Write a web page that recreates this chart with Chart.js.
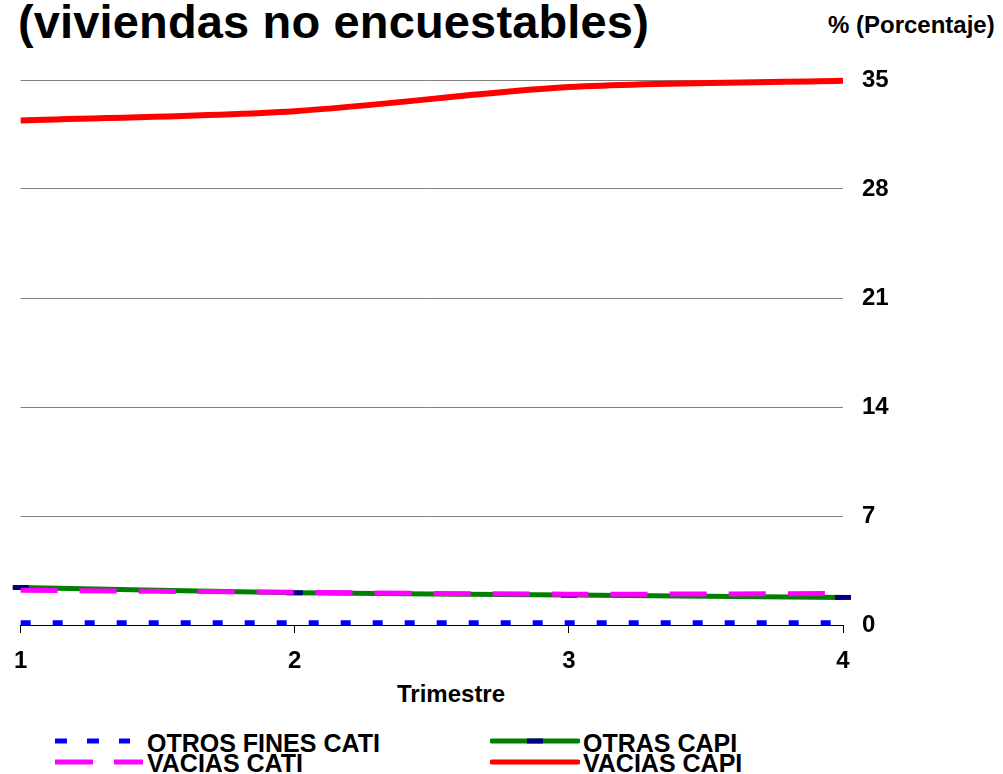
<!DOCTYPE html>
<html>
<head>
<meta charset="utf-8">
<script src="https://cdn.jsdelivr.net/npm/chart.js@4.4.1/dist/chart.umd.min.js"></script>
<style>
  html, body { margin: 0; padding: 0; background: #fff; }
  body { width: 1003px; height: 774px; position: relative; overflow: hidden;
         font-family: "Liberation Sans", Arial, sans-serif; font-weight: bold; color: #000; }
  #wrap { position: absolute; left: 0; top: 0; width: 1003px; height: 710px; }
  .txt { position: absolute; white-space: nowrap; line-height: 1; }
  #title { left: 18px; top: -2px; font-size: 47px; letter-spacing: 0.15px; }
  #ytitle { left: 828px; top: 13px; font-size: 24px; }
  #xtitle { left: 397px; top: 682px; font-size: 24px; }
  .leg { position: absolute; font-size: 25px; line-height: 1; white-space: nowrap; }
</style>
</head>
<body>
<div class="txt" id="title">(viviendas no encuestables)</div>
<div class="txt" id="ytitle">% (Porcentaje)</div>
<div class="txt" id="xtitle">Trimestre</div>
<div id="wrap"><canvas id="trimChart" width="1003" height="710"></canvas></div>
<div id="legend"></div>
<script>
// Categories and series
const trimestres = ['1', '2', '3', '4'];
const otrosFinesCati = [0.15, 0.15, 0.15, 0.15];
const otrasCapi = [2.41, 2.07, 1.92, 1.77];
const vaciasCati = [2.23, 2.1, 1.98, 2.02];
const vaciasCapi = [32.4, 33.0, 34.55, 34.95];
const yTicks = [0, 7, 14, 21, 28, 35];

const boldFont = { family: '"Liberation Sans", Arial, sans-serif', size: 24, weight: 'bold' };

const ctx = document.getElementById('trimChart').getContext('2d');
const chart = new Chart(ctx, {
  type: 'line',
  data: {
    labels: trimestres,
    datasets: [
      {
        label: 'VACIAS CATI',
        data: vaciasCati,
        borderColor: '#FF00FF',
        borderWidth: 5,
        borderDash: [37, 22],
        pointRadius: 0,
        tension: 0.3
      },
      {
        label: 'OTRAS CAPI',
        data: otrasCapi,
        borderColor: '#008000',
        borderWidth: 5,
        pointStyle: 'line',
        pointRadius: 8,
        pointBorderWidth: 5,
        pointBorderColor: '#000080',
        pointBackgroundColor: '#000080',
        tension: 0.3,
        clip: false
      },
      {
        label: 'VACIAS CAPI',
        data: vaciasCapi,
        borderColor: '#FF0000',
        borderWidth: 6,
        pointRadius: 0,
        tension: 0.3,
        clip: false
      },
      {
        label: 'OTROS FINES CATI',
        data: otrosFinesCati,
        borderColor: '#0000FF',
        borderWidth: 5,
        borderDash: [10, 22],
        pointRadius: 0,
        clip: false
      }
    ]
  },
  options: {
    responsive: false,
    animation: false,
    layout: { padding: { left: 18, top: 80, right: 0, bottom: 0 } },
    plugins: {
      legend: { display: false },
      tooltip: { enabled: false }
    },
    scales: {
      x: {
        offset: false,
        grid: { drawOnChartArea: false, drawTicks: true, tickLength: 8, color: '#000', lineWidth: 1 },
        border: { color: '#000', width: 1 },
        ticks: { font: boldFont, color: '#000', padding: 14, maxRotation: 0 },
        afterFit: function(scale) { scale.height = 85; }
      },
      y: {
        position: 'right',
        min: 0,
        max: 35,
        afterBuildTicks: function(scale) { scale.ticks = yTicks.map(v => ({ value: v })); },
        grid: { color: '#808080', lineWidth: 1, drawTicks: false },
        border: { display: false },
        ticks: { font: boldFont, color: '#000', padding: 19 },
        afterFit: function(scale) { scale.width = 160; }
      }
    }
  }
});

// Legend (two columns, like the original)
const legendItems = [
  { text: 'OTROS FINES CATI', color: '#0000FF', dash: '12 20', x: 55, w: 75, tx: 147, top: 731, ly: 741 },
  { text: 'OTRAS CAPI', color: '#008000', dash: '', x: 492, w: 86, tx: 583, top: 731, ly: 741, marker: true },
  { text: 'VACIAS CATI', color: '#FF00FF', dash: '38 21', x: 55, w: 88, tx: 147, top: 751, ly: 762 },
  { text: 'VACIAS CAPI', color: '#FF0000', dash: '', x: 492, w: 86, tx: 583, top: 751, ly: 762 }
];
const legendEl = document.getElementById('legend');
legendItems.forEach(function(it) {
  const svgNS = 'http://www.w3.org/2000/svg';
  const svg = document.createElementNS(svgNS, 'svg');
  svg.setAttribute('width', it.w + 4);
  svg.setAttribute('height', 10);
  svg.style.position = 'absolute';
  svg.style.left = (it.x - 2) + 'px';
  svg.style.top = (it.ly - 5) + 'px';
  const line = document.createElementNS(svgNS, 'line');
  line.setAttribute('x1', 2);
  line.setAttribute('x2', it.w + 2);
  line.setAttribute('y1', 5);
  line.setAttribute('y2', 5);
  line.setAttribute('stroke', it.color);
  line.setAttribute('stroke-width', 5);
  if (it.dash) line.setAttribute('stroke-dasharray', it.dash);
  else line.setAttribute('stroke-linecap', 'round');
  svg.appendChild(line);
  if (it.marker) {
    const m = document.createElementNS(svgNS, 'line');
    m.setAttribute('x1', it.w / 2 - 6);
    m.setAttribute('x2', it.w / 2 + 10);
    m.setAttribute('y1', 5);
    m.setAttribute('y2', 5);
    m.setAttribute('stroke', '#000080');
    m.setAttribute('stroke-width', 5);
    svg.appendChild(m);
  }
  legendEl.appendChild(svg);
  const t = document.createElement('div');
  t.className = 'leg';
  t.textContent = it.text;
  t.style.left = it.tx + 'px';
  t.style.top = it.top + 'px';
  legendEl.appendChild(t);
});
</script>
</body>
</html>
